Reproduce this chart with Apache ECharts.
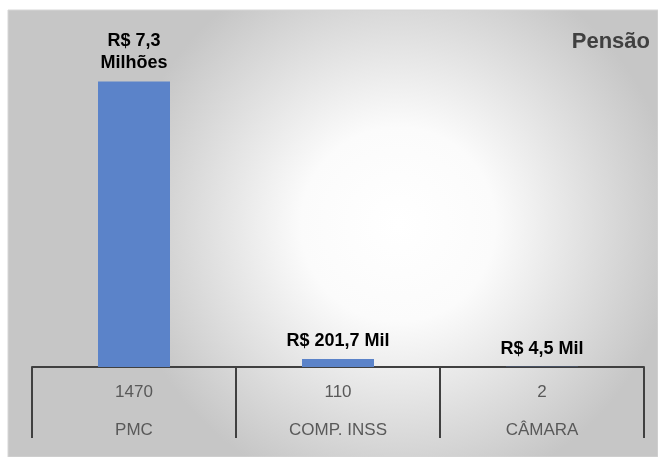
<!DOCTYPE html>
<html>
<head>
<meta charset="utf-8">
<script src="https://cdn.jsdelivr.net/npm/echarts@6/dist/echarts.min.js"></script>
<style>
  html, body { margin: 0; padding: 0; background: #fff; }
  #chart { width: 658px; height: 457px; }
</style>
</head>
<body>
<div id="chart"></div>
<script>
// categorias e contagens (tabela de dados embaixo do eixo)
const categorias = ['PMC', 'COMP. INSS', 'CÂMARA']
const quantidades = [1470, 110, 2]
// valores das pensões em R$
const valores = [7300000, 201700, 4500]
const rotulos = ['R$ 7,3\nMilhões', 'R$ 201,7 Mil', 'R$ 4,5 Mil']

const chart = echarts.init(document.getElementById('chart'))
const fonte = '"Liberation Sans", Arial, sans-serif'

const option = {
  animation: false,
  title: {
    text: 'Pensão',
    right: 3,
    top: 26,
    textStyle: { color: '#404040', fontSize: 22, fontWeight: 'bold', fontFamily: fonte }
  },
  // fundo com degradê radial
  graphic: [{
    type: 'rect',
    z: -10,
    shape: { x: 8, y: 10, width: 650, height: 447 },
    style: {
      fill: new echarts.graphic.RadialGradient(0.6, 0.48, 0.62, [
        { offset: 0, color: '#ffffff' },
        { offset: 0.35, color: '#fbfbfb' },
        { offset: 1, color: '#c6c6c6' }
      ]),
      stroke: '#d6d6d6',
      lineWidth: 1
    }
  }],
  grid: { left: 32, right: 14, top: 54, bottom: 90 },
  xAxis: {
    type: 'category',
    data: categorias,
    axisLine: { show: true, lineStyle: { color: '#404040', width: 2 } },
    // linhas verticais da tabela
    axisTick: { show: true, interval: 0, alignWithLabel: false, length: 71, lineStyle: { color: '#404040', width: 2 } },
    axisLabel: {
      margin: 6,
      formatter: (v, i) => '{a|' + quantidades[i] + '}\n{b|' + v + '}',
      rich: {
        a: { fontSize: 17, color: '#595959', lineHeight: 38, fontFamily: fonte },
        b: { fontSize: 17, color: '#595959', lineHeight: 38, fontFamily: fonte }
      }
    }
  },
  yAxis: {
    type: 'value',
    min: 0,
    max: 8000000,
    show: false,
    splitLine: { show: false }
  },
  series: [{
    type: 'bar',
    data: valores,
    barWidth: 72,
    itemStyle: { color: '#5b83c9' },
    label: {
      show: true,
      position: 'top',
      distance: 7,
      formatter: p => rotulos[p.dataIndex],
      color: '#000',
      fontSize: 18,
      fontWeight: 'bold',
      lineHeight: 22,
      fontFamily: fonte
    }
  }]
}
chart.setOption(option)
</script>
</body>
</html>
